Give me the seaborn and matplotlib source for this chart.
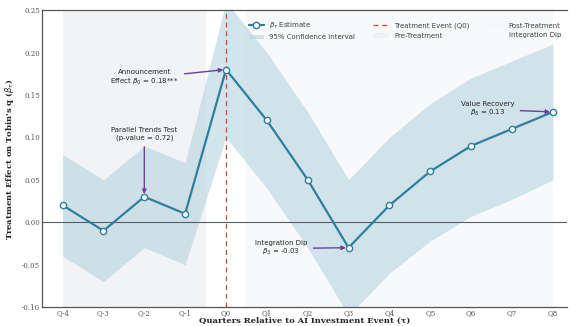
import matplotlib
matplotlib.use("Agg")
import matplotlib.pyplot as plt
import seaborn as sns
import pandas as pd

# event-study estimates
quarters = ['Q-4', 'Q-3', 'Q-2', 'Q-1', 'Q0', 'Q1', 'Q2', 'Q3', 'Q4', 'Q5', 'Q6', 'Q7', 'Q8']
tau = [-4, -3, -2, -1, 0, 1, 2, 3, 4, 5, 6, 7, 8]
beta = [0.02, -0.01, 0.03, 0.01, 0.18, 0.12, 0.05, -0.03, 0.02, 0.06, 0.09, 0.11, 0.13]
ci_low = [-0.04, -0.07, -0.03, -0.05, 0.10, 0.04, -0.03, -0.11, -0.06, -0.022, 0.007, 0.027, 0.05]
ci_high = [0.08, 0.05, 0.09, 0.07, 0.26, 0.20, 0.13, 0.05, 0.10, 0.14, 0.17, 0.19, 0.21]

df = pd.DataFrame({'tau': tau, 'beta': beta, 'lo': ci_low, 'hi': ci_high})

sns.set_theme(style="white")
plt.rcParams['font.family'] = ['DejaVu Sans']

line_col = '#2f7f9c'
arrow_col = '#6c3fa0'

fig = plt.figure(figsize=(5.7, 3.26), dpi=100)
ax = fig.add_axes([0.074, 0.058, 0.921, 0.911])

# background periods
ax.axvspan(-4, -0.5, color='#eceef2', alpha=0.7, lw=0, label='Pre-Treatment')
ax.axvspan(0.5, 8, color='#f3f5f8', alpha=0.6, lw=0, label='Post-Treatment')
ax.axvspan(2.5, 3.5, color='#fbe3c4', alpha=0.0, lw=0, label='Integration Dip')

ax.fill_between(df['tau'], df['lo'], df['hi'], color='#b6d4e0', alpha=0.6, lw=0,
                label='95% Confidence Interval')
ax.axhline(0, color='#555e66', lw=0.8)
ax.axvline(0, color='#c0503a', lw=0.9, ls=(0, (4, 3)), label='Treatment Event (Q0)')

sns.lineplot(data=df, x='tau', y='beta', ax=ax, color=line_col, lw=1.6,
             marker='o', markersize=4.5, markerfacecolor='white',
             markeredgecolor=line_col, markeredgewidth=1.0,
             label=r'$\beta_\tau$ Estimate')

ann = dict(arrowstyle='-|>', color=arrow_col, lw=1.0, mutation_scale=6)
fs = 5
ax.annotate('Announcement\nEffect ' + r'$\beta_0$' + ' = 0.18***', xy=(0, beta[4]),
            xytext=(-2.0, 0.170), fontsize=fs, ha='center', va='center',
            arrowprops=ann)
ax.annotate('Parallel Trends Test\n(p-value = 0.72)', xy=(-2, beta[2]),
            xytext=(-2.0, 0.104), fontsize=fs, ha='center', va='center',
            arrowprops=ann)
ax.annotate('Integration Dip\n' + r'$\beta_3$' + ' = -0.03', xy=(3, beta[7]),
            xytext=(1.35, -0.031), fontsize=fs, ha='center', va='center',
            arrowprops=ann)
ax.annotate('Value Recovery\n' + r'$\beta_8$' + ' = 0.13', xy=(8, beta[12]),
            xytext=(6.4, 0.133), fontsize=fs, ha='center', va='center',
            arrowprops=ann)

ax.set_xlim(-4.5, 8.35)
ax.set_ylim(-0.10, 0.25)
ax.set_xticks(tau)
ax.set_xticklabels(quarters)
ax.set_yticks([-0.10, -0.05, 0.0, 0.05, 0.10, 0.15, 0.20, 0.25])
ax.yaxis.set_major_formatter(matplotlib.ticker.FormatStrFormatter('%.2f'))
ax.tick_params(labelsize=5, colors='#555555', length=0, pad=1.5)
for lab in ax.get_xticklabels() + ax.get_yticklabels():
    lab.set_family('DejaVu Serif')

ax.set_xlabel('Quarters Relative to AI Investment Event (τ)', fontsize=6,
              fontweight='bold', family='DejaVu Serif', labelpad=0)
ax.set_ylabel(r"Treatment Effect on Tobin's q ($\beta_\tau$)", fontsize=6,
              fontweight='bold', family='DejaVu Serif', labelpad=4)

for sp in ax.spines.values():
    sp.set_color('#555555')
    sp.set_linewidth(0.9)
ax.spines['right'].set_visible(False)

h, l = ax.get_legend_handles_labels()
order = [r'$\beta_\tau$ Estimate', '95% Confidence Interval', 'Treatment Event (Q0)',
         'Pre-Treatment', 'Post-Treatment', 'Integration Dip']
hd = dict(zip(l, h))
ax.legend([hd[k] for k in order], order, ncol=3, loc='upper right', fontsize=5,
          frameon=False, bbox_to_anchor=(1.0, 0.985), columnspacing=2.6,
          handlelength=2.2, labelcolor='#444444')

fig.savefig('out.png', dpi=100)
